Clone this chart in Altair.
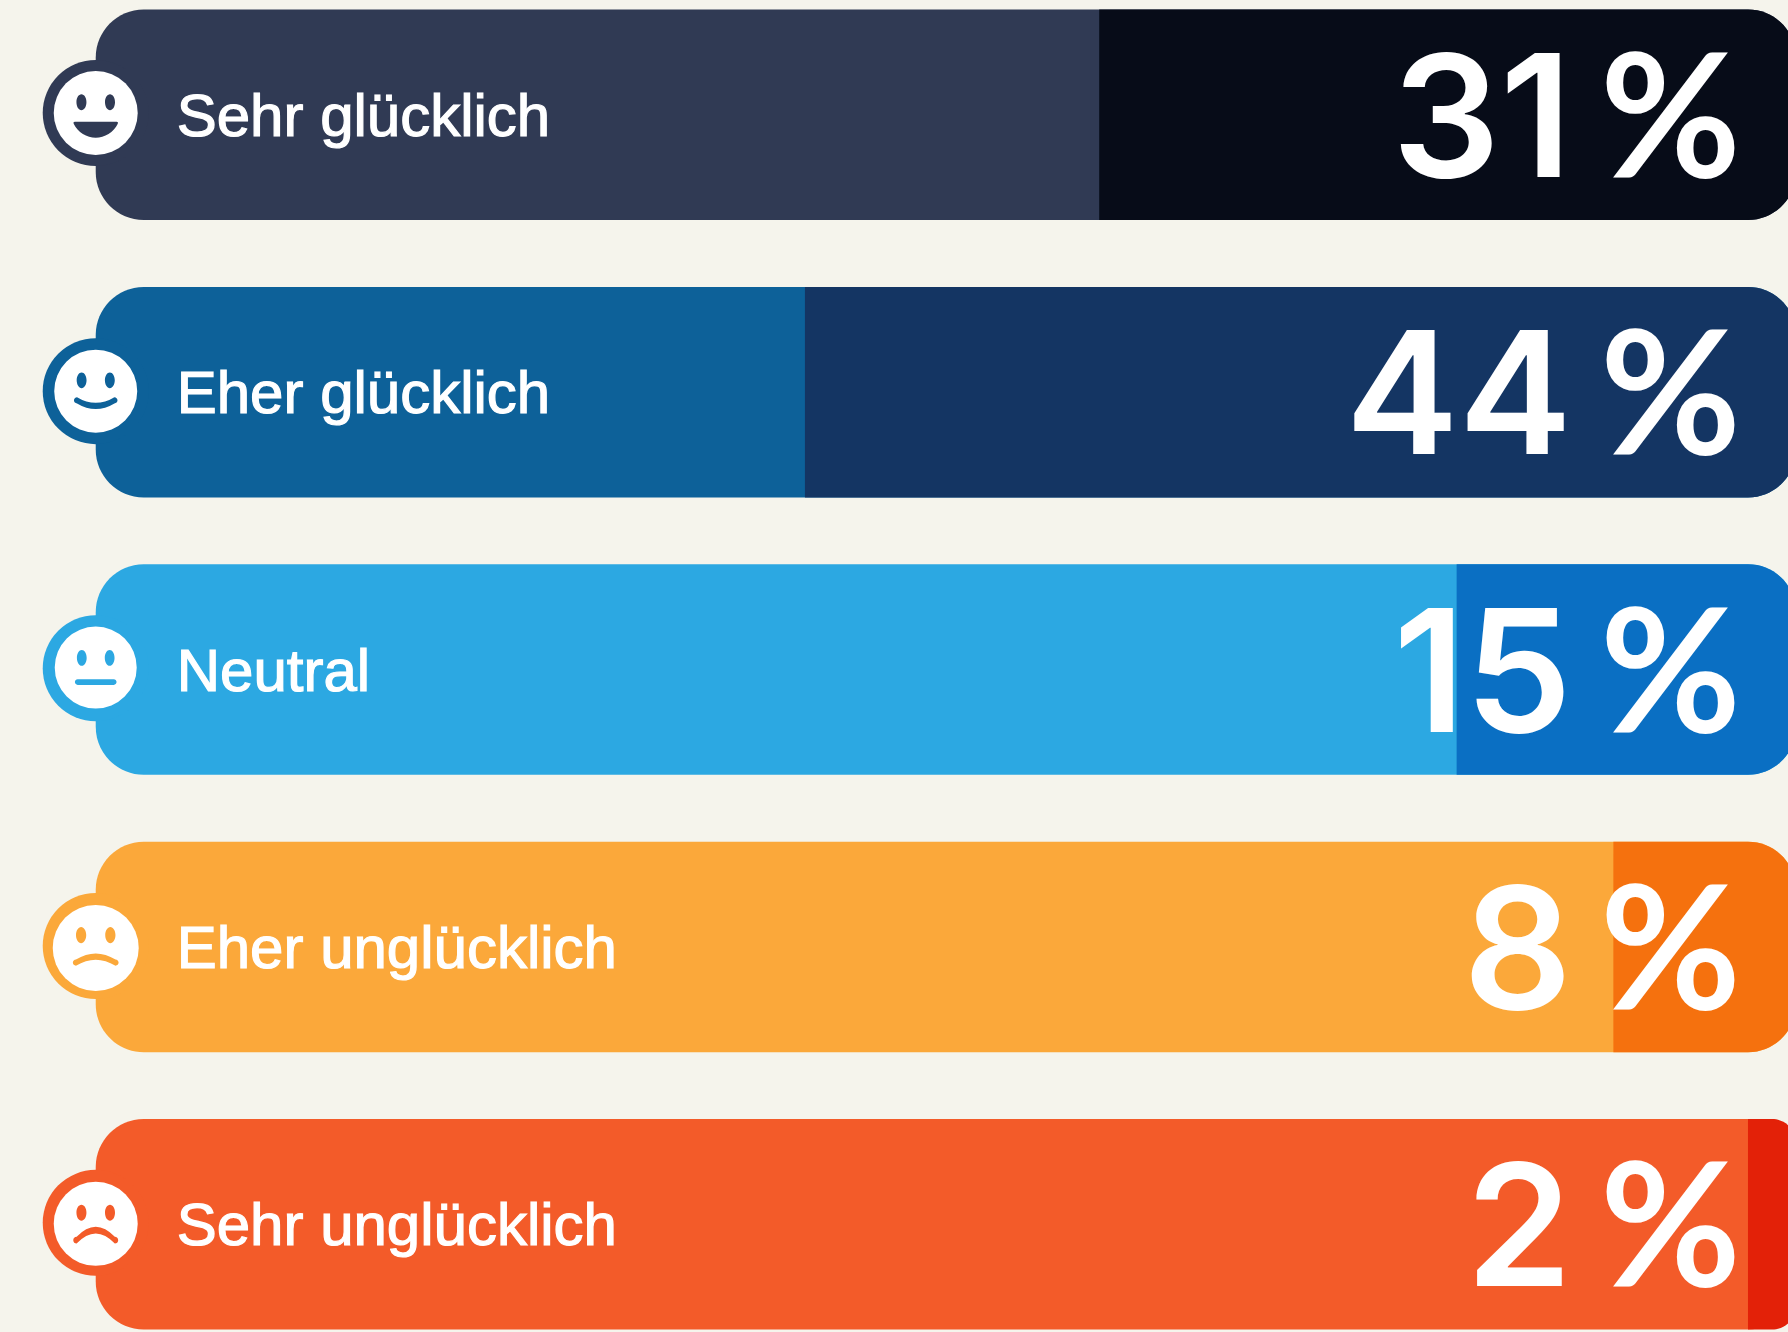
import altair as alt
import pandas as pd

categories = ["Sehr glücklich", "Eher glücklich", "Neutral", "Eher unglücklich", "Sehr unglücklich"]
values = [31, 44, 15, 8, 2]
segment = [30.9, 43.95, 15.05, 8.1, 2.13]
track = [75.4, 75.4, 75.4, 75.4, 75.4]
light = ["#303a54", "#0d6199", "#2ca8e2", "#fba83a", "#f35b29"]
dark = ["#070c18", "#143563", "#0a6fc3", "#f5710e", "#e32108"]
bubble_dy = [-1.7, -1, -1.3, -1, -1.5]
face_dy = [-1.7, -1, -2, 1, -0.5]
face_r = [42, 41.5, 41, 43, 42]
BG = "#f5f4ec"


def eyes(y, dx=0.34, rx=0.119, ry=0.19):
    e = ""
    for x in (-dx, dx):
        e += f"M{x - rx},{y}A{rx},{ry} 0 1 1 {x + rx},{y}A{rx},{ry} 0 1 1 {x - rx},{y}Z"
    return e


def mouth(a, y0, c, t):
    return (f"M{-a},{y0 - t}Q0,{c - t} {a},{y0 - t}A{t},{t} 0 0 1 {a},{y0 + t}"
            f"Q0,{c + t} {-a},{y0 + t}A{t},{t} 0 0 1 {-a},{y0 - t}Z")


grin = ("M-0.5,0.207L0.5,0.207Q0.545,0.207 0.525,0.255C0.43,0.46 0.21,0.587 0,0.587"
        "C-0.21,0.587 -0.43,0.46 -0.525,0.255Q-0.545,0.207 -0.5,0.207Z")

faces = [
    eyes(-0.255) + grin,
    eyes(-0.262) + mouth(0.45, 0.22, 0.494, 0.075),
    eyes(-0.235) + mouth(0.44, 0.355, 0.355, 0.068),
    eyes(-0.30) + mouth(0.46, 0.34, 0.06, 0.072),
    eyes(-0.265) + mouth(0.455, 0.39, -0.09, 0.08),
]

df = pd.DataFrame({
    "cat": categories,
    "value": values,
    "segment": segment,
    "track": track,
    "zero": [0] * 5,
    "light": light,
    "dark": dark,
    "pct": ["%"] * 5,
})

W, H = 1788, 1332
x_scale = alt.Scale(domain=[79.645, 0.355], nice=False, zero=False)
y_scale = alt.Scale(domain=categories, paddingInner=0.2412, paddingOuter=0.02145, align=0.798, round=False)
X = lambda f: alt.X(f, type="quantitative", scale=x_scale, axis=None)
Y = alt.Y("cat:N", scale=y_scale, axis=None)
fill = lambda f: alt.Fill(f, type="nominal", scale=None, legend=None)

base = alt.Chart(df)
layers = [
    base.mark_bar(cornerRadius=48).encode(x=X("track"), x2="zero", y=Y, fill=fill("light")),
    base.mark_bar(cornerRadiusTopRight=48, cornerRadiusBottomRight=48).encode(
        x=X("segment"), x2="zero", y=Y, fill=fill("dark")),
    base.mark_text(align="left", baseline="alphabetic", font="Liberation Sans", fontSize=60, fontWeight=400,
                   color="white", dy=21, xOffset=81, stroke="white", strokeWidth=1.2).encode(
        x=X("track"), y=Y, text="cat:N"),
    base.mark_text(align="right", baseline="alphabetic", font="Inter", fontSize=170, fontWeight=600,
                   color="white", dy=62).encode(x=alt.value(1572), y=Y, text="value:N"),
    base.mark_text(align="right", baseline="alphabetic", font="Lato", fontSize=172, fontWeight=700,
                   color="white", dy=62).encode(x=alt.value(1741), y=Y, text="pct:N"),
]

for i, c in enumerate(categories):
    row = alt.Chart(df[df.cat == c])
    layers += [
        row.mark_point(shape="circle", filled=True, opacity=1, size=4 * 53 ** 2, yOffset=bubble_dy[i]).encode(
            x=X("track"), y=Y, fill=fill("light")),
        row.mark_point(shape="circle", filled=True, opacity=1, size=4 * face_r[i] ** 2, fill="white",
                       yOffset=face_dy[i]).encode(x=X("track"), y=Y),
        row.mark_point(shape=faces[i], filled=True, opacity=1, size=4 * face_r[i] ** 2,
                       yOffset=face_dy[i]).encode(x=X("track"), y=Y, fill=fill("light")),
    ]

chart = alt.layer(*layers).properties(
    width=W, height=H, padding=0,
    autosize=alt.AutoSizeParams(type="none"),
    background=BG,
).configure_view(stroke=None)

chart.save("out.html", embed_options={"renderer": "svg", "actions": False,
    "defaultStyle": f"html,body{{margin:0;padding:0;background:{BG};overflow:hidden}}"})
